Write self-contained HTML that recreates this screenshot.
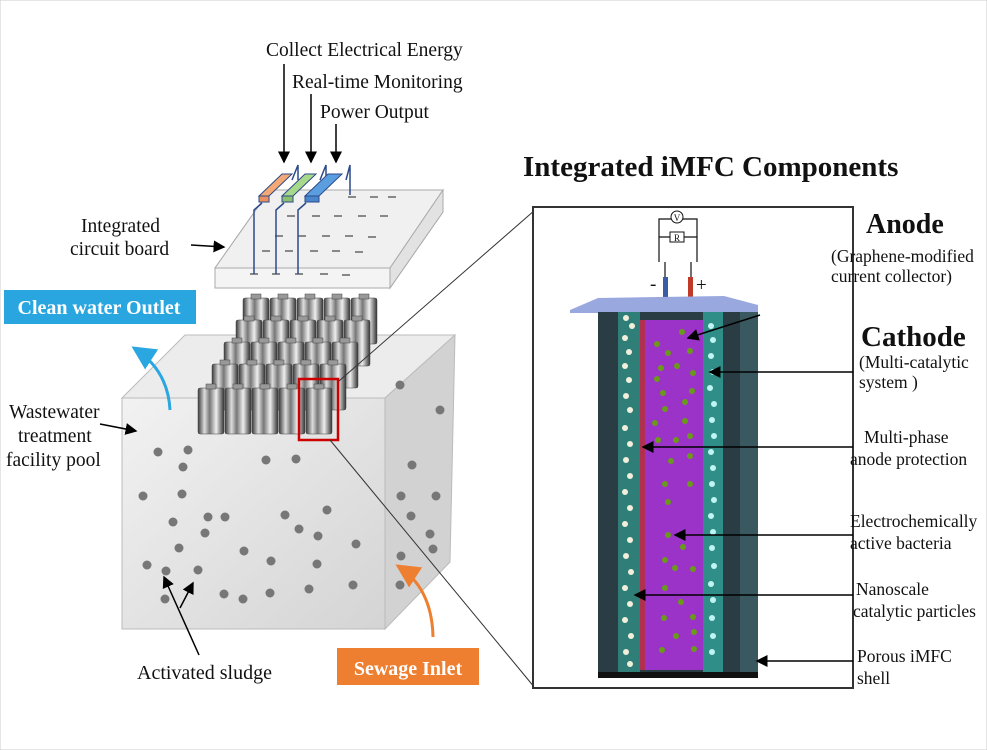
<!DOCTYPE html><html><head><style>body{margin:0;background:#fff}svg{display:block}text{font-family:"Liberation Serif",serif;fill:#111}</style></head><body>
<svg width="987" height="750" viewBox="0 0 987 750" xmlns="http://www.w3.org/2000/svg">
<defs>
<linearGradient id="cyl" x1="0" x2="1"><stop offset="0" stop-color="#3a3a3a"/><stop offset=".25" stop-color="#ddd"/><stop offset=".45" stop-color="#777"/><stop offset=".7" stop-color="#eee"/><stop offset="1" stop-color="#333"/></linearGradient>
<linearGradient id="front" x1="0" y1="0" x2="1" y2="1"><stop offset="0" stop-color="#f2f2f2"/><stop offset="1" stop-color="#d4d4d4"/></linearGradient>
<marker id="ar" markerWidth="8" markerHeight="8" refX="7" refY="4" orient="auto"><path d="M0,0L8,4L0,8z" fill="#000"/></marker>
<marker id="ab" markerWidth="8" markerHeight="8" refX="7" refY="4" orient="auto"><path d="M0,0L8,4L0,8z" fill="#2aa6e0"/></marker>
<marker id="ao" markerWidth="8" markerHeight="8" refX="7" refY="4" orient="auto"><path d="M0,0L8,4L0,8z" fill="#ee7f30"/></marker>
<g id="row" stroke="#444" stroke-width=".5">
<rect x="0" y="0" width="26" height="46" fill="url(#cyl)" rx="2"/><rect x="8" y="-4" width="10" height="5" fill="#999"/>
<rect x="27" y="0" width="26" height="46" fill="url(#cyl)" rx="2"/><rect x="35" y="-4" width="10" height="5" fill="#999"/>
<rect x="54" y="0" width="26" height="46" fill="url(#cyl)" rx="2"/><rect x="62" y="-4" width="10" height="5" fill="#999"/>
<rect x="81" y="0" width="26" height="46" fill="url(#cyl)" rx="2"/><rect x="89" y="-4" width="10" height="5" fill="#999"/>
<rect x="108" y="0" width="26" height="46" fill="url(#cyl)" rx="2"/><rect x="116" y="-4" width="10" height="5" fill="#999"/>
</g>
</defs>
<rect x="0" y="0" width="987" height="750" fill="#fff" stroke="#ccc"/>
<!-- cube -->
<polygon points="122,398 185,335 455,335 385,398" fill="#ececec" stroke="#bbb"/>
<polygon points="385,398 455,335 450,562 385,629" fill="#d2d2d2" stroke="#bbb"/>
<rect x="122" y="398" width="263" height="231" fill="url(#front)" stroke="#bbb"/>
<g fill="#777">
<circle cx="158" cy="452" r="4.5"/><circle cx="183" cy="467" r="4.5"/><circle cx="188" cy="450" r="4.5"/><circle cx="143" cy="496" r="4.5"/><circle cx="182" cy="494" r="4.5"/><circle cx="266" cy="460" r="4.5"/><circle cx="296" cy="459" r="4.5"/><circle cx="173" cy="522" r="4.5"/><circle cx="208" cy="517" r="4.5"/><circle cx="225" cy="517" r="4.5"/><circle cx="205" cy="533" r="4.5"/><circle cx="179" cy="548" r="4.5"/><circle cx="244" cy="551" r="4.5"/><circle cx="285" cy="515" r="4.5"/><circle cx="327" cy="510" r="4.5"/><circle cx="299" cy="529" r="4.5"/><circle cx="318" cy="536" r="4.5"/><circle cx="356" cy="544" r="4.5"/><circle cx="271" cy="561" r="4.5"/><circle cx="317" cy="564" r="4.5"/><circle cx="147" cy="565" r="4.5"/><circle cx="166" cy="571" r="4.5"/><circle cx="198" cy="570" r="4.5"/><circle cx="165" cy="599" r="4.5"/><circle cx="224" cy="594" r="4.5"/><circle cx="243" cy="599" r="4.5"/><circle cx="270" cy="593" r="4.5"/><circle cx="309" cy="589" r="4.5"/><circle cx="353" cy="585" r="4.5"/>
<circle cx="412" cy="465" r="4.5"/><circle cx="401" cy="496" r="4.5"/><circle cx="436" cy="496" r="4.5"/><circle cx="411" cy="516" r="4.5"/><circle cx="430" cy="534" r="4.5"/><circle cx="401" cy="556" r="4.5"/><circle cx="433" cy="549" r="4.5"/><circle cx="400" cy="585" r="4.5"/><circle cx="400" cy="385" r="4.5"/><circle cx="440" cy="410" r="4.5"/>
</g>
<!-- cylinders -->
<use href="#row" x="243" y="298"/>
<use href="#row" x="236" y="320"/>
<use href="#row" x="224" y="342"/>
<use href="#row" x="212" y="364"/>
<use href="#row" x="198" y="388"/>
<rect x="299" y="379" width="39" height="61" fill="none" stroke="#c00" stroke-width="2.5"/>
<line x1="339" y1="381" x2="535" y2="210" stroke="#333"/>
<line x1="330" y1="440" x2="535" y2="688" stroke="#333"/>
<!-- circuit board -->
<polygon points="215,268 270,190 443,190 443,212 390,288 215,288" fill="#f4f4f4" stroke="#aaa"/>
<polygon points="215,268 270,190 443,190 390,268" fill="#f0f0f0" stroke="#aaa"/>
<polygon points="390,268 443,190 443,212 390,288" fill="#e2e2e2" stroke="#aaa"/>
<g stroke="#888" stroke-width="2"><line x1="348" y1="197" x2="356" y2="197"/><line x1="370" y1="197" x2="378" y2="197"/><line x1="388" y1="197" x2="396" y2="197"/><line x1="287" y1="216" x2="295" y2="216"/><line x1="312" y1="216" x2="320" y2="216"/><line x1="334" y1="216" x2="342" y2="216"/><line x1="358" y1="216" x2="366" y2="216"/><line x1="380" y1="216" x2="388" y2="216"/><line x1="275" y1="236" x2="283" y2="236"/><line x1="298" y1="236" x2="306" y2="236"/><line x1="322" y1="236" x2="330" y2="236"/><line x1="345" y1="236" x2="353" y2="236"/><line x1="368" y1="237" x2="376" y2="237"/><line x1="262" y1="251" x2="270" y2="251"/><line x1="285" y1="251" x2="293" y2="251"/><line x1="310" y1="251" x2="318" y2="251"/><line x1="332" y1="251" x2="340" y2="251"/><line x1="355" y1="252" x2="363" y2="252"/><line x1="250" y1="274" x2="258" y2="274"/><line x1="272" y1="274" x2="280" y2="274"/><line x1="295" y1="274" x2="303" y2="274"/><line x1="320" y1="274" x2="328" y2="274"/><line x1="342" y1="275" x2="350" y2="275"/></g>
<g stroke="#2c4a8a" stroke-width="1.5" fill="none"><polyline points="254,274 254,210 262,203"/><polyline points="276,274 276,210 284,203"/><polyline points="298,274 298,210 306,203"/><polyline points="292,180 298,165 298,180"/><polyline points="320,180 326,165 326,180"/><polyline points="346,180 350,165 350,195"/></g>
<polygon points="259,196 282,174 292,174 269,196" fill="#f4a876" stroke="#2c4a8a"/><rect x="259" y="196" width="10" height="6" fill="#e89060" stroke="#2c4a8a"/>
<polygon points="282,196 305,174 316,174 293,196" fill="#a8d88a" stroke="#2c4a8a"/><rect x="282" y="196" width="11" height="6" fill="#8cc070" stroke="#2c4a8a"/>
<polygon points="305,196 328,174 342,174 319,196" fill="#5b9ee0" stroke="#2c4a8a"/><rect x="305" y="196" width="14" height="6" fill="#4a86cc" stroke="#2c4a8a"/>
<!-- top labels -->
<text x="266" y="56" font-size="19.5">Collect Electrical Energy</text>
<text x="292" y="88" font-size="19.5">Real-time Monitoring</text>
<text x="320" y="118" font-size="19.5">Power Output</text>
<g stroke="#000" stroke-width="1.5" marker-end="url(#ar)"><line x1="284" y1="64" x2="284" y2="162"/><line x1="311" y1="94" x2="311" y2="162"/><line x1="336" y1="124" x2="336" y2="162"/></g>
<text x="81" y="232" font-size="19.5">Integrated</text><text x="70" y="255" font-size="19.5">circuit board</text>
<line x1="191" y1="245" x2="224" y2="247" stroke="#000" stroke-width="1.5" marker-end="url(#ar)"/>
<rect x="4" y="290" width="192" height="34" fill="#29a6e0"/><text x="99" y="314" font-size="20" font-weight="bold" text-anchor="middle" style="fill:#fff">Clean water Outlet</text>
<path d="M170,410 Q168,370 134,348" fill="none" stroke="#2aa6e0" stroke-width="3" marker-end="url(#ab)"/>
<text x="9" y="418" font-size="19.5">Wastewater</text><text x="18" y="442" font-size="19.5">treatment</text><text x="6" y="466" font-size="19.5">facility pool</text>
<line x1="100" y1="424" x2="136" y2="431" stroke="#000" stroke-width="1.5" marker-end="url(#ar)"/>
<g stroke="#000" stroke-width="1.5" fill="none"><line x1="199" y1="655" x2="164" y2="577" marker-end="url(#ar)"/><line x1="180" y1="608" x2="193" y2="583" marker-end="url(#ar)"/></g>
<text x="137" y="679" font-size="20">Activated sludge</text>
<rect x="337" y="648" width="142" height="37" fill="#ee7f30"/><text x="408" y="675" font-size="20" font-weight="bold" text-anchor="middle" style="fill:#fff">Sewage Inlet</text>
<path d="M433,637 Q432,588 398,566" fill="none" stroke="#ee7f30" stroke-width="3" marker-end="url(#ao)"/>
<!-- right panel -->
<text x="523" y="176" font-size="29" font-weight="bold">Integrated iMFC Components</text>
<rect x="533" y="207" width="320" height="481" fill="#fff" stroke="#333" stroke-width="2"/>
<g stroke="#111" stroke-width="1.2" fill="none"><polyline points="659,262 659,219 697,219 697,262"/><line x1="659" y1="237" x2="697" y2="237"/><polyline points="665,262 665,290"/><polyline points="691,262 691,290"/></g>
<circle cx="677" cy="217" r="6" fill="#fff" stroke="#111"/><text x="677" y="221" font-size="9" text-anchor="middle">V</text>
<rect x="670" y="232" width="14" height="10" fill="#fff" stroke="#111"/><text x="677" y="241" font-size="9" text-anchor="middle">R</text>
<rect x="663" y="277" width="5" height="20" fill="#3a5da8"/><rect x="688" y="277" width="5" height="20" fill="#c03a2a"/>
<text x="650" y="290" font-size="19">-</text><text x="696" y="291" font-size="19">+</text>
<polygon points="570,310 598,298 724,296 758,305 758,313 570,313" fill="#9aa8e0"/>
<rect x="598" y="312" width="160" height="363" fill="#2a3c44"/>
<rect x="740" y="312" width="18" height="363" fill="#3a5860"/>
<rect x="618" y="312" width="22" height="360" fill="#2f7f78"/>
<rect x="640" y="320" width="5" height="350" fill="#b03050"/>
<rect x="645" y="320" width="58" height="350" fill="#9b33c8"/>
<rect x="703" y="312" width="20" height="360" fill="#2f8f88"/>
<rect x="598" y="672" width="160" height="6" fill="#111"/>
<g fill="#f2f0dc"><circle cx="626" cy="318" r="3"/><circle cx="632" cy="326" r="3"/><circle cx="625" cy="338" r="3"/><circle cx="629" cy="352" r="3"/><circle cx="625" cy="366" r="3"/><circle cx="629" cy="380" r="3"/><circle cx="626" cy="396" r="3"/><circle cx="630" cy="410" r="3"/><circle cx="625" cy="428" r="3"/><circle cx="630" cy="444" r="3"/><circle cx="626" cy="460" r="3"/><circle cx="630" cy="476" r="3"/><circle cx="625" cy="492" r="3"/><circle cx="630" cy="508" r="3"/><circle cx="625" cy="524" r="3"/><circle cx="630" cy="540" r="3"/><circle cx="626" cy="556" r="3"/><circle cx="631" cy="572" r="3"/><circle cx="625" cy="588" r="3"/><circle cx="630" cy="604" r="3"/><circle cx="625" cy="620" r="3"/><circle cx="631" cy="636" r="3"/><circle cx="626" cy="652" r="3"/><circle cx="630" cy="664" r="3"/></g>
<g fill="#bff4f4"><circle cx="711" cy="326" r="3"/><circle cx="713" cy="340" r="3"/><circle cx="711" cy="356" r="3"/><circle cx="713" cy="372" r="3"/><circle cx="710" cy="388" r="3"/><circle cx="714" cy="404" r="3"/><circle cx="712" cy="420" r="3"/><circle cx="714" cy="436" r="3"/><circle cx="711" cy="452" r="3"/><circle cx="713" cy="468" r="3"/><circle cx="712" cy="484" r="3"/><circle cx="714" cy="500" r="3"/><circle cx="711" cy="516" r="3"/><circle cx="713" cy="532" r="3"/><circle cx="712" cy="548" r="3"/><circle cx="714" cy="566" r="3"/><circle cx="711" cy="584" r="3"/><circle cx="713" cy="600" r="3"/><circle cx="712" cy="618" r="3"/><circle cx="713" cy="636" r="3"/><circle cx="712" cy="652" r="3"/></g>
<g fill="#6a9a1a"><circle cx="682" cy="332" r="3"/><circle cx="657" cy="344" r="3"/><circle cx="668" cy="353" r="3"/><circle cx="690" cy="351" r="3"/><circle cx="661" cy="368" r="3"/><circle cx="677" cy="366" r="3"/><circle cx="693" cy="373" r="3"/><circle cx="657" cy="379" r="3"/><circle cx="663" cy="393" r="3"/><circle cx="692" cy="391" r="3"/><circle cx="685" cy="402" r="3"/><circle cx="665" cy="409" r="3"/><circle cx="655" cy="423" r="3"/><circle cx="685" cy="421" r="3"/><circle cx="658" cy="440" r="3"/><circle cx="676" cy="440" r="3"/><circle cx="690" cy="436" r="3"/><circle cx="671" cy="461" r="3"/><circle cx="690" cy="456" r="3"/><circle cx="665" cy="484" r="3"/><circle cx="690" cy="484" r="3"/><circle cx="668" cy="502" r="3"/><circle cx="668" cy="535" r="3"/><circle cx="683" cy="547" r="3"/><circle cx="665" cy="560" r="3"/><circle cx="675" cy="568" r="3"/><circle cx="693" cy="569" r="3"/><circle cx="665" cy="588" r="3"/><circle cx="681" cy="602" r="3"/><circle cx="664" cy="618" r="3"/><circle cx="693" cy="617" r="3"/><circle cx="676" cy="636" r="3"/><circle cx="694" cy="632" r="3"/><circle cx="662" cy="650" r="3"/><circle cx="694" cy="649" r="3"/></g>
<g stroke="#000" stroke-width="1.5" marker-end="url(#ar)">
<line x1="760" y1="315" x2="688" y2="338"/>
<line x1="853" y1="372" x2="710" y2="372"/>
<line x1="853" y1="447" x2="643" y2="447"/>
<line x1="853" y1="535" x2="675" y2="535"/>
<line x1="853" y1="595" x2="635" y2="595"/>
<line x1="853" y1="661" x2="757" y2="661"/>
</g>
<text x="866" y="233" font-size="28" font-weight="bold">Anode</text>
<text x="831" y="262" font-size="17.5">(Graphene-modified</text><text x="831" y="282" font-size="17.5">current collector)</text>
<text x="861" y="346" font-size="29" font-weight="bold">Cathode</text>
<text x="859" y="368" font-size="17.5">(Multi-catalytic</text><text x="859" y="388" font-size="17.5">system )</text>
<text x="864" y="443" font-size="17.5">Multi-phase</text><text x="850" y="465" font-size="17.5">anode protection</text>
<text x="850" y="527" font-size="17.5">Electrochemically</text><text x="850" y="549" font-size="17.5">active bacteria</text>
<text x="856" y="595" font-size="17.5">Nanoscale</text><text x="853" y="617" font-size="17.5">catalytic particles</text>
<text x="857" y="662" font-size="17.5">Porous iMFC</text><text x="857" y="684" font-size="17.5">shell</text>
</svg>
</body></html>
